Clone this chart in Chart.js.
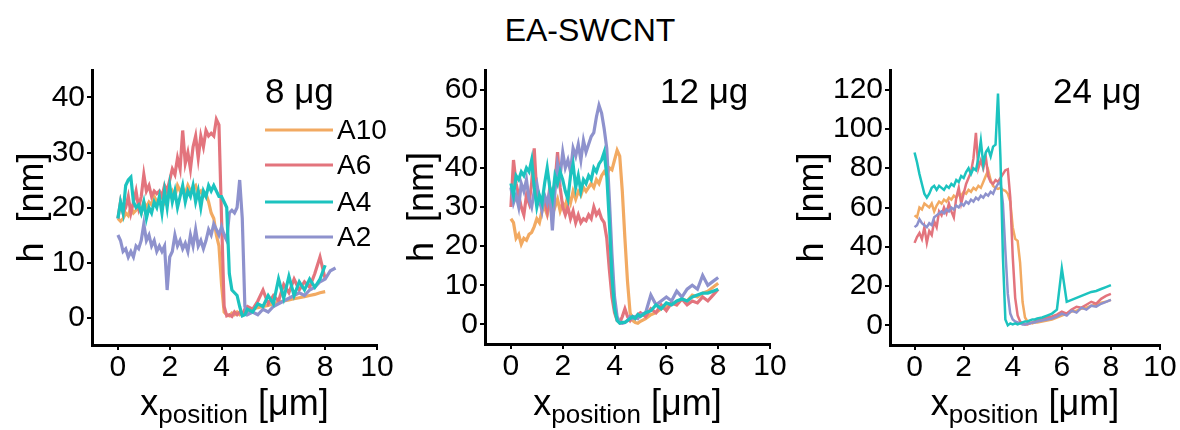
<!DOCTYPE html>
<html>
<head>
<meta charset="utf-8">
<script src="https://cdn.jsdelivr.net/npm/chart.js@4.4.1/dist/chart.umd.min.js"></script>
<style>
  body { margin: 0; width: 1180px; height: 430px; background: #fff; position: relative; overflow: hidden; font-family: "Liberation Sans", Arial, sans-serif; }
  #title { position: absolute; left: 0; width: 1180px; top: 12px; text-align: center; font-size: 32px; line-height: 36px; color: #000; }
  canvas { position: absolute; top: 50px; }
</style>
</head>
<body>
<div id="title">EA-SWCNT</div>
<canvas id="p8" width="410" height="380" style="left:0px"></canvas>
<canvas id="p12" width="410" height="380" style="left:390px"></canvas>
<canvas id="p24" width="400" height="380" style="left:780px"></canvas>
<script>
// x positions [µm] shared by every profile
const X = [0,0.1,0.2,0.3,0.4,0.5,0.6,0.7,0.8,0.9,
  1,1.1,1.2,1.3,1.4,1.5,1.6,1.7,1.8,1.9,
  2,2.1,2.2,2.3,2.4,2.5,2.6,2.7,2.8,2.9,
  3,3.1,3.2,3.3,3.4,3.5,3.6,3.7,3.8,3.9,
  4,4.1,4.2,4.3,4.4,4.5,4.6,4.7,4.8,4.9,
  5,
  5.2,5.4,5.6,5.8,6,6.2,6.4,6.6,6.8,7,
  7.2,7.4,7.6,7.8,8,8.2,8.4];

const series = ["A10", "A6", "A4", "A2"];
const panelLabels = ["8 μg", "12 μg", "24 μg"];

const xTicks = [0, 2, 4, 6, 8, 10];
const yTicks8 = [0, 10, 20, 30, 40];
const yTicks12 = [0, 10, 20, 30, 40, 50, 60];
const yTicks24 = [0, 20, 40, 60, 80, 100, 120];

// 8 µg
const h8_A10 = [18,17.5,18,19,18.5,20,19,19.5,20,19,
  21,20,21,20.5,22,21,21.5,22,21,22.5,
  22,23,22,24,23,23.5,22.5,24,23,23.5,
  24,22.5,23,22,22.5,21,19,18,15,13,
  6,1,0.5,0.3,0.8,0.5,1,0.5,0.8,1,
  1.2,
  1.5,1.8,2,2.2,2.5,2.8,3,3.2,3.4,3.6,
  3.8,4,4.2,4.5,4.7,null,null];
const h8_A6 = [18,21,19,20,22,19,21,23,20,22,
  26,23,24,22,23,22.5,23,22,24,23,
  25,27,26,29,27,34,28,30,27,31,
  33,29,33,31,34,33,33.5,33,36,35,
  18,2,0.3,0.5,0.2,1,0.5,1,0.5,1.5,
  2,
  1.5,3,5,2.5,4,3,6,4.5,7,5,
  6.5,5.5,8,11,7,null,null];
const h8_A4 = [18,21,19,24,25,25.5,21,20,20.5,19,
  21,18,20,19,21,20,22,19,23,20,
  24,21,23,20,22,24,21,23,22,24,
  21,23,20,23,22,24,23,24,23,22,
  22,21,20,8,5,4.5,4,2,0.3,0.5,
  1.5,
  1,2.5,2,4,2.5,7,3.5,7.5,4,6.5,
  5,7,5.5,7,9.5,null,null];
const h8_A2 = [15,14,12,12.5,11,12,11,13,12.5,14,
  17,14,15,13,14,12,13,12,13,5,
  11,12,15,13,14,12.5,13.5,12,15,13,
  16,13,14,12.5,14,16,15,17,16,15,
  16.5,15,14,19,19.5,19,20,25,18,2,
  0.5,
  1,0.5,1.5,1,2,2.5,3,3.5,4,4.5,
  4,5,5.5,6.5,7,8.5,9];

// 12 µg
const h12_A10 = [27,26,22,23,20.5,22,21.5,23,23.5,25,
  27,26,29,30,28,31,33,30,32,29,
  31,30,33,31,34,32,34,33,35,34,
  35,36,35,37,36,38,39,38,40,39.5,
  42,44.5,43,34,22,11,3,1,0.5,0.3,
  0.8,
  1.5,2.5,3,4,4.5,5.5,5,6.5,6,7.5,
  7,8,8.5,9.5,10.5,null,null];
const h12_A6 = [30,42,36,33,30,28,33,31,36,45,
  33,31,30,32,29,35,33,36,44,35,
  30,28,30,27,29,26,28,26,27,26.5,
  28,27,30,28,29,27,26,22,14,7,
  3,1,0.5,2,4,2,1,2,1.5,2.5,
  3,
  2,4,3,5,3.5,5.5,5,6.5,5,6,
  5.5,7,6,7.5,9,null,null];
const h12_A4 = [36,33,38,37,39,38,40,39,42,35,
  30,33,31,36,40,35,32,38,36,39,
  37,34,32,38,41,35,38,34,37,36,
  38,37,40,39,41,42,44,38,26,12,
  4,1,0.3,0.5,0.5,1,1.5,2,1.5,2.5,
  2,
  3,3.5,5,4,5.5,5,6,6.5,6,7,
  7.5,8,8,8.5,9,null,null];
const h12_A2 = [35,31,33,30,36,34,37,32,30,34,
  36,32,29,33,31,34,24,34,41,38,
  44,40,42,39,45,43,46,42,47,44,
  46,48,49,53,56,54,50,45,32,18,
  7,2,0.5,0.3,0.5,1,2,1.5,2,1.5,
  2.5,
  3,7.5,5,6,7,6,8.5,7,9,10,
  9,12.5,10,11,12,null,null];

// 24 µg
const h24_A10 = [56,55,60,59,62,61,60,62,58,61,
  63,62,64,63,65,64,66,65,67,66,
  68,67,69,68,70,69,71,70,73,76,
  79,74,71,70,69.5,70,69,68.5,67,63,
  50,44,43,32,12,4,2,1.5,1,1.5,
  1.5,
  2,2.5,3,4,5,6,7,7.5,8.5,9,
  10,10.5,11.5,12,13,null,null];
const h24_A6 = [42,45,47,44,50,42,48,46,53,50,
  58,56,60,57,62,58,55,65,70,62,
  67,72,75,78,85,98,80,84,80,86,
  76,73,72,74,73,75,77,79,79.5,65,
  35,14,5,2,1,0.5,0.5,1,1.5,2,
  2.5,
  3,4,4.5,5.5,7,6,8,9.5,9,10.5,
  12,11,13.5,15,16,null,null];
const h24_A4 = [88,83,77,72,67,65,67,70,71,69,
  71,70,69,71,70,72,71,74,73,76,
  75,78,80,77,80,79,85,94,82,88,
  90,86,91,92,118,85,35,3,0,1,
  0.5,1,0.5,1,1.5,2,2,2.5,3,3,
  3.5,
  4,5,6,8,29,12,13,14,15,16,
  17,17.5,18.5,19.5,20.5,null,null];
const h24_A2 = [50,51,54,52,51,50,52,51,55,56,
  57,58,57,59,58,60,59,61,60,62,
  61,63,62,64,63,65,64,66,65,67,
  66,68,67,70,72,73,62,38,16,6,
  3,2,1.5,1,0.5,0.5,1,1,1.5,1.5,
  2,
  2.5,3,3.5,4.5,6,5,7.5,6.5,9,8,
  10,9.5,11,12,13,null,null];

const COLORS = { A10: "#F2AA62", A6: "#E3747D", A4: "#1CC3BF", A2: "#8E92CD" };
const FONT = '"Liberation Sans", Arial, sans-serif';

function toPoints(ys) {
  const pts = [];
  X.forEach(function (x, i) {
    if (ys[i] !== null && ys[i] !== undefined) pts.push({ x: x, y: ys[i] });
  });
  return pts;
}

function makePanel(id, data, yMin, yMax, yTicks, label, box, showLegend, lineW) {
  const textPlugin = {
    id: "panelText",
    afterDraw: function (chart) {
      const ctx = chart.ctx;
      const area = chart.chartArea;
      ctx.save();
      ctx.fillStyle = "#000";
      // y title
      ctx.save();
      ctx.translate(33, (area.top + area.bottom) / 2);
      ctx.rotate(-Math.PI / 2);
      ctx.textAlign = "center";
      ctx.textBaseline = "middle";
      ctx.font = "36px " + FONT;
      ctx.fillText("h  [nm]", 0, 0);
      ctx.restore();
      // x title with subscript
      ctx.textBaseline = "alphabetic";
      ctx.textAlign = "left";
      ctx.font = "36px " + FONT;
      const wx = ctx.measureText("x").width;
      const wb = ctx.measureText(" [μm]").width;
      ctx.font = "26px " + FONT;
      const ws = ctx.measureText("position").width;
      let sx = (area.left + area.right) / 2 - (wx + ws + wb) / 2;
      ctx.font = "36px " + FONT;
      ctx.fillText("x", sx, 365);
      ctx.font = "26px " + FONT;
      ctx.fillText("position", sx + wx, 373);
      ctx.font = "36px " + FONT;
      ctx.fillText(" [μm]", sx + wx + ws, 365);
      // panel label
      ctx.textBaseline = "middle";
      ctx.font = "35px " + FONT;
      ctx.fillText(label, box.labelX, 43);
      // legend
      if (showLegend) {
        const rows = [80, 115, 152, 187];
        ctx.font = "28px " + FONT;
        series.forEach(function (name, i) {
          ctx.strokeStyle = COLORS[name];
          ctx.lineWidth = 3;
          ctx.beginPath();
          ctx.moveTo(265, rows[i]);
          ctx.lineTo(333, rows[i]);
          ctx.stroke();
          ctx.fillText(name, 337, rows[i] + 1);
        });
      }
      ctx.restore();
    }
  };

  const canvas = document.getElementById(id);
  const W = canvas.width, H = canvas.height;

  new Chart(canvas, {
    type: "line",
    data: {
      datasets: series.map(function (name, i) {
        return {
          label: name,
          data: toPoints(data[i]),
          borderColor: COLORS[name],
          borderWidth: lineW,
          pointRadius: 0,
          tension: 0,
          fill: false,
          order: name === "A4" ? 0 : (name === "A2" ? 1 : (name === "A6" ? 2 : 3))
        };
      })
    },
    plugins: [textPlugin],
    options: {
      responsive: false,
      animation: false,
      events: [],
      layout: { padding: { left: 0, top: box.T, right: W - box.R, bottom: 0 } },
      plugins: { legend: { display: false }, tooltip: { enabled: false } },
      scales: {
        x: {
          type: "linear",
          min: -1,
          max: 10,
          afterFit: function (s) { s.height = H - box.B; },
          afterBuildTicks: function (s) { s.ticks = xTicks.map(function (v) { return { value: v }; }); },
          grid: { drawOnChartArea: false, drawTicks: true, tickLength: 5, color: "#000", lineWidth: 2 },
          border: { display: true, color: "#000", width: 3 },
          ticks: { color: "#000", font: { family: FONT, size: 30 }, padding: 0, maxRotation: 0 }
        },
        y: {
          min: yMin,
          max: yMax,
          afterFit: function (s) { s.width = box.L; },
          afterBuildTicks: function (s) { s.ticks = yTicks.map(function (v) { return { value: v }; }); },
          grid: { drawOnChartArea: false, drawTicks: true, tickLength: 5, color: "#000", lineWidth: 2 },
          border: { display: true, color: "#000", width: 3 },
          ticks: { color: "#000", font: { family: FONT, size: 30 }, padding: 2 }
        }
      }
    }
  });
}

makePanel("p8", [h8_A10, h8_A6, h8_A4, h8_A2], -5, 45, yTicks8, panelLabels[0],
  { L: 92, T: 15, R: 377, B: 295, labelX: 265 }, true, 3.2);
makePanel("p12", [h12_A10, h12_A6, h12_A4, h12_A2], -5, 65, yTicks12, panelLabels[1],
  { L: 95, T: 13, R: 380, B: 294, labelX: 270 }, false, 3.2);
makePanel("p24", [h24_A10, h24_A6, h24_A4, h24_A2], -10, 130, yTicks24, panelLabels[2],
  { L: 110, T: 13, R: 380, B: 295, labelX: 273 }, false, 2.5);
</script>
</body>
</html>
